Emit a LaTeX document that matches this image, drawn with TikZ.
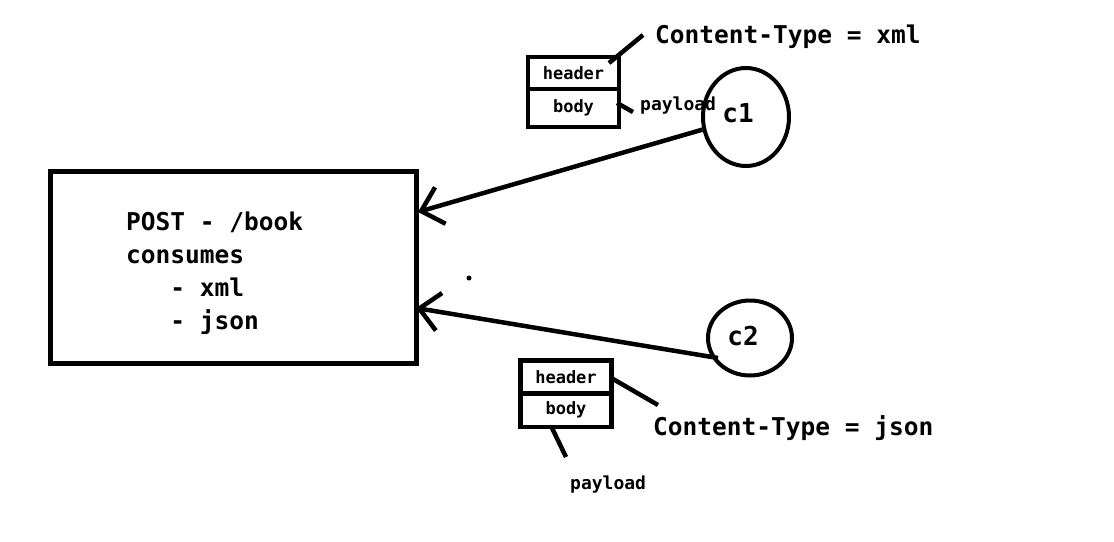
\documentclass[tikz,border=0pt]{standalone}
\usepackage{fontspec}
\setmonofont{DejaVu Sans Mono}
\usetikzlibrary{arrows.meta,shapes.geometric}
\begin{document}
\begin{tikzpicture}[x=1pt,y=-1pt,
  thick line/.style={line width=4.5pt},
  bigtxt/.style={font=\ttfamily\bfseries\fontsize{24.5}{30}\selectfont,inner sep=0pt},
  smalltxt/.style={font=\ttfamily\bfseries\fontsize{18}{22}\selectfont,inner sep=0pt},
  client/.style={ellipse,draw,line width=4pt,inner sep=0pt},
  msgbox/.style={rectangle,draw,line width=4.5pt,minimum width=91pt,inner sep=0pt,font=\ttfamily\bfseries\fontsize{17}{20}\selectfont},
  arr/.style={line width=4.5pt,-{Straight Barb[length=20pt,width=38pt,line width=4.5pt]}}]
\useasboundingbox (0,0) rectangle (1114,541);
% main box
\node[draw,line width=5pt,minimum width=366pt,minimum height=192pt,inner sep=0pt] (post) at (233,267) {};
\node[bigtxt,anchor=base west] (l1) at (126,230) {POST - /book};
\node[bigtxt,anchor=base west] (l2) at (126,263) {consumes};
\node[bigtxt,anchor=base west] (l3) at (126,296) {\ \ \ - xml};
\node[bigtxt,anchor=base west] (l4) at (126,329) {\ \ \ - json};
% clients
\node[client,minimum width=86pt,minimum height=98pt] (c1) at (746,117) {};
\node[font=\ttfamily\bfseries\fontsize{26}{30}\selectfont,inner sep=0pt,anchor=base] (c1t) at (738,122) {c1};
\node[client,minimum width=84pt,minimum height=75pt] (c2) at (750,338) {};
\node[font=\ttfamily\bfseries\fontsize{26}{30}\selectfont,inner sep=0pt,anchor=base] (c2t) at (743,345) {c2};
% arrow targets
\coordinate (t1) at (418,212);
\coordinate (t2) at (416,308);
\draw[arr] (c1) -- (t1);
\draw[arr] (718,358) coordinate (s2) -- (t2);
% dot
\fill (469,278) circle (2.5pt);
% top message
\node[msgbox,minimum height=32pt] (h1) at (573.5,73) {header};
\node[msgbox,minimum height=38pt] (b1) at (573.5,108) {body};
\coordinate (h1e) at (643,35);
\draw[thick line] (609,63) coordinate (h1s) -- (h1e);
\node[bigtxt,anchor=base west] (ct1) at (655,43) {Content-Type = xml};
\draw[thick line] (617,103) coordinate (b1s) -- (633,112) coordinate (b1e);
\node[smalltxt,anchor=base west] (p1) at (640,110) {payload};
% bottom message
\node[msgbox,minimum height=33pt] (h2) at (566,377) {header};
\node[msgbox,minimum height=34pt] (b2) at (566,410) {body};
\draw[thick line] (613,379) coordinate (h2s) -- (658,405) coordinate (h2e);
\node[bigtxt,anchor=base west] (ct2) at (653,435) {Content-Type = json};
\draw[thick line] (552,428) coordinate (b2s) -- (566,457) coordinate (b2e);
\node[smalltxt,anchor=base west] (p2) at (570,489) {payload};
\end{tikzpicture}
\end{document}
